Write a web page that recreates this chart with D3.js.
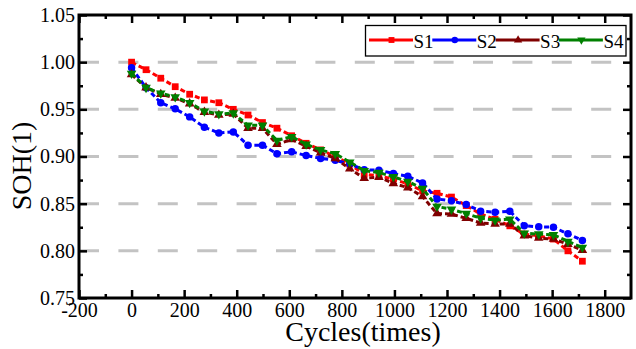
<!DOCTYPE html>
<html>
<head>
<meta charset="utf-8">
<script src="https://cdn.jsdelivr.net/npm/d3@7"></script>
<style>
  body { margin: 0; background: #fff; }
  svg { display: block; }
  text { font-family: "Liberation Serif", "Times New Roman", serif; fill: #000; }
</style>
</head>
<body>
<svg id="chart" width="636" height="349"></svg>
<script>
// Cycle counts at which SOH was sampled
const cycles = [0, 55, 111, 166, 221, 277, 332, 387, 443, 498, 553, 609, 664, 719, 775, 830,
  885, 941, 996, 1051, 1107, 1162, 1217, 1273, 1328, 1383, 1439, 1494, 1549, 1605, 1660, 1715];

// State of health per cell
const s1 = [1.000, 0.992, 0.983, 0.974, 0.966, 0.960, 0.957, 0.950, 0.944, 0.936, 0.930, 0.922,
  0.914, 0.907, 0.900, 0.892, 0.881, 0.8795, 0.876, 0.871, 0.8635, 0.861, 0.857, 0.848,
  0.839, 0.8335, 0.8265, 0.8177, 0.816, 0.8125, 0.800, 0.789];
const s2 = [0.994, 0.973, 0.957, 0.9505, 0.942, 0.931, 0.925, 0.926, 0.912, 0.912, 0.903, 0.905,
  0.901, 0.898, 0.896, 0.892, 0.886, 0.8855, 0.882, 0.879, 0.872, 0.855, 0.853, 0.849,
  0.842, 0.841, 0.842, 0.8265, 0.8255, 0.825, 0.818, 0.811];
const s3 = [0.987, 0.973, 0.966, 0.962, 0.956, 0.947, 0.944, 0.945, 0.930, 0.930, 0.913, 0.918,
  0.911, 0.904, 0.898, 0.887, 0.877, 0.878, 0.8715, 0.867, 0.8575, 0.8395, 0.839, 0.8345,
  0.8295, 0.8285, 0.8285, 0.816, 0.8135, 0.8125, 0.807, 0.8007];
const s4 = [0.988, 0.973, 0.967, 0.963, 0.957, 0.948, 0.945, 0.946, 0.933, 0.933, 0.917, 0.921,
  0.913, 0.907, 0.903, 0.894, 0.885, 0.883, 0.8785, 0.8735, 0.866, 0.847, 0.844, 0.8395,
  0.8345, 0.8325, 0.8335, 0.8187, 0.8177, 0.817, 0.810, 0.8035];

const seriesNames = ["S1", "S2", "S3", "S4"];
const seriesValues = [s1, s2, s3, s4];

// Axis ticks
const xTicks = [-200, 0, 200, 400, 600, 800, 1000, 1200, 1400, 1600, 1800];
const xMinor = [-100, 100, 300, 500, 700, 900, 1100, 1300, 1500, 1700];
const yTicks = [0.75, 0.80, 0.85, 0.90, 0.95, 1.00, 1.05];
const yMinor = [0.775, 0.825, 0.875, 0.925, 0.975, 1.025];
const gridValues = [0.80, 0.85, 0.90, 0.95, 1.00];

const colors = ["#ff0000", "#0000ff", "#800000", "#008000"];
const shapes = [
  { type: d3.symbolSquare, size: 46, rot: 0 },
  { type: d3.symbolCircle, size: 44, rot: 0 },
  { type: d3.symbolTriangle, size: 40, rot: 0 },
  { type: d3.symbolTriangle, size: 40, rot: 180 }
];

const svg = d3.select("#chart");
const L = 79, R = 631, T = 15, B = 298;

const x = d3.scaleLinear().domain([-200, 1900]).range([L, R]);
const y = d3.scaleLinear().domain([0.75, 1.05]).range([B, T]);

// Dashed horizontal grid
svg.append("g").selectAll("line").data(gridValues).join("line")
  .attr("x1", L).attr("x2", R)
  .attr("y1", d => y(d)).attr("y2", d => y(d))
  .attr("stroke", "#c3c3c3").attr("stroke-width", 3)
  .attr("stroke-dasharray", "20,19.4");

// Axes with inward ticks on all four sides
function styleAxis(g) {
  g.select(".domain").remove();
  g.attr("font-family", null);
  g.selectAll(".tick line").attr("stroke", "#000").attr("stroke-width", 2.5);
}
function styleLabels(g) {
  g.selectAll("text").attr("font-size", 20)
    .style("font-family", "'Liberation Serif', 'Times New Roman', serif");
}

svg.append("g").attr("transform", `translate(0,${B})`)
  .call(d3.axisBottom(x).tickValues(xTicks).tickSize(-8).tickSizeOuter(0).tickPadding(5)
    .tickFormat(d => String(d)))
  .call(styleAxis).call(styleLabels);
svg.append("g").attr("transform", `translate(0,${B})`)
  .call(d3.axisBottom(x).tickValues(xMinor).tickSize(-4).tickFormat(""))
  .call(styleAxis);
svg.append("g").attr("transform", `translate(0,${T})`)
  .call(d3.axisTop(x).tickValues(xTicks).tickSize(-8).tickFormat(""))
  .call(styleAxis);
svg.append("g").attr("transform", `translate(0,${T})`)
  .call(d3.axisTop(x).tickValues(xMinor).tickSize(-4).tickFormat(""))
  .call(styleAxis);

svg.append("g").attr("transform", `translate(${L},0)`)
  .call(d3.axisLeft(y).tickValues(yTicks).tickSize(-8).tickPadding(4).tickFormat(d3.format(".2f")))
  .call(styleAxis).call(styleLabels);
svg.append("g").attr("transform", `translate(${L},0)`)
  .call(d3.axisLeft(y).tickValues(yMinor).tickSize(-4).tickFormat(""))
  .call(styleAxis);
svg.append("g").attr("transform", `translate(${R},0)`)
  .call(d3.axisRight(y).tickValues(yTicks).tickSize(-8).tickFormat(""))
  .call(styleAxis);
svg.append("g").attr("transform", `translate(${R},0)`)
  .call(d3.axisRight(y).tickValues(yMinor).tickSize(-4).tickFormat(""))
  .call(styleAxis);

// Plot frame
svg.append("rect")
  .attr("x", L).attr("y", T).attr("width", R - L).attr("height", B - T)
  .attr("fill", "none").attr("stroke", "#000").attr("stroke-width", 3);

// Series lines and markers
const line = d3.line().x(d => x(d[0])).y(d => y(d[1]));
seriesValues.forEach((vals, i) => {
  const pts = cycles.map((c, k) => [c, vals[k]]);
  const g = svg.append("g");
  g.append("path").datum(pts).attr("d", line)
    .attr("fill", "none").attr("stroke", colors[i]).attr("stroke-width", 3)
    .attr("stroke-dasharray", "5,3");
  const sym = d3.symbol().type(shapes[i].type).size(shapes[i].size);
  g.selectAll("path.m").data(pts).join("path").attr("class", "m")
    .attr("d", sym)
    .attr("transform", d => `translate(${x(d[0])},${y(d[1])}) rotate(${shapes[i].rot})`)
    .attr("fill", colors[i]);
});

// Legend
const lg = svg.append("g");
lg.append("rect").attr("x", 365.5).attr("y", 25.5).attr("width", 260.5).attr("height", 30.5)
  .attr("fill", "#fff").attr("stroke", "#000").attr("stroke-width", 1.3);
seriesNames.forEach((name, i) => {
  const x0 = 369 + i * 63.3, ly = 40;
  lg.append("line").attr("x1", x0).attr("x2", x0 + 44).attr("y1", ly).attr("y2", ly)
    .attr("stroke", colors[i]).attr("stroke-width", 3);
  lg.append("path")
    .attr("d", d3.symbol().type(shapes[i].type).size(shapes[i].size * 0.75))
    .attr("transform", `translate(${x0 + 22.5},${ly}) rotate(${shapes[i].rot})`)
    .attr("fill", colors[i]);
  lg.append("text").attr("x", x0 + 44.5).attr("y", 47.5).attr("font-size", 19).text(name);
});

// Axis titles
svg.append("text").attr("x", 363).attr("y", 341).attr("text-anchor", "middle")
  .attr("font-size", 28).text("Cycles(times)");
svg.append("text").attr("transform", "translate(31,166) rotate(-90)")
  .attr("text-anchor", "middle").attr("font-size", 28).text("SOH(1)");
</script>
</body>
</html>
